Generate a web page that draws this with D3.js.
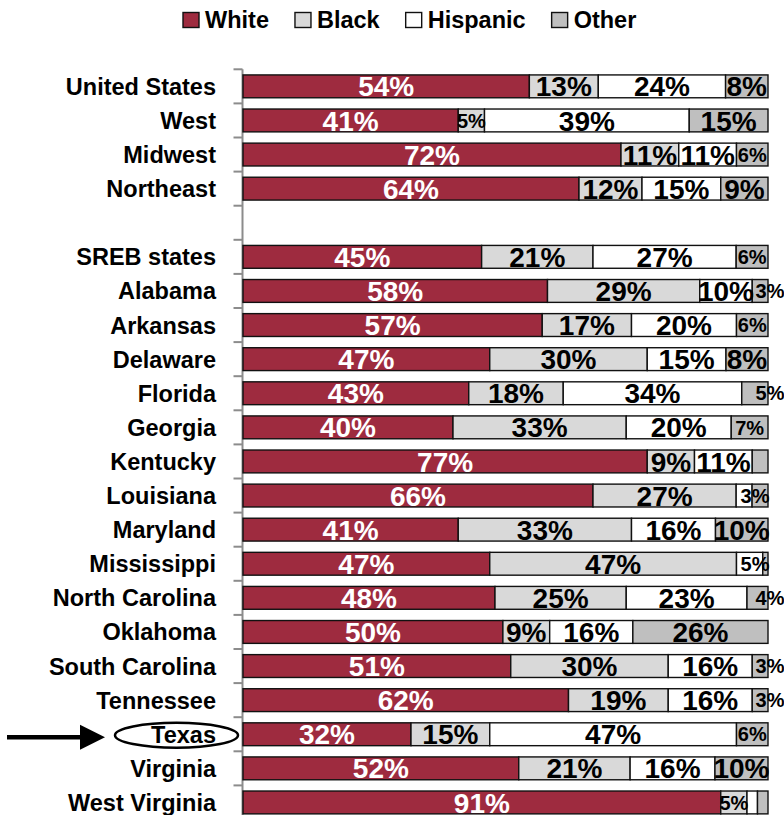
<!DOCTYPE html>
<html>
<head>
<meta charset="utf-8">
<script src="https://cdn.jsdelivr.net/npm/d3@7"></script>
<style>
  body { margin: 0; background: #fff; }
  svg { display: block; font-family: "Liberation Sans", Arial, sans-serif; font-weight: bold; }
</style>
</head>
<body>
<svg id="chart" width="784" height="815"></svg>
<script>
// chart data
var categories = ["United States", "West", "Midwest", "Northeast",
  "SREB states", "Alabama", "Arkansas", "Delaware", "Florida", "Georgia",
  "Kentucky", "Louisiana", "Maryland", "Mississippi", "North Carolina",
  "Oklahoma", "South Carolina", "Tennessee", "Texas", "Virginia", "West Virginia"];
var seriesNames = ["White", "Black", "Hispanic", "Other"];
var white    = [54, 41, 72, 64, 45, 58, 57, 47, 43, 40, 77, 66, 41, 47, 48, 50, 51, 62, 32, 52, 91];
var black    = [13,  5, 11, 12, 21, 29, 17, 30, 18, 33,  9, 27, 33, 47, 25,  9, 30, 19, 15, 21,  5];
var hispanic = [24, 39, 11, 15, 27, 10, 20, 15, 34, 20, 11,  3, 16,  5, 23, 16, 16, 16, 47, 16,  2];
var other    = [ 8, 15,  6,  9,  6,  3,  6,  8,  5,  7,  3,  3, 10,  1,  4, 26,  3,  3,  6, 10,  2];
var gapAfter = "Northeast";
var highlighted = "Texas";
var hiddenLabels = ["Kentucky|Other", "Louisiana|Other"];

var colors = { White: "#9e2b3f", Black: "#d9d9d9", Hispanic: "#ffffff", Other: "#bfbfbf" };

var svg = d3.select("#chart");

var rows = categories.map(function (c, i) {
  return { name: c, White: white[i], Black: black[i], Hispanic: hispanic[i], Other: other[i] };
});

// slots include one empty slot after the regions
var slots = [];
categories.forEach(function (c) {
  slots.push(c);
  if (c === gapAfter) slots.push("__gap__");
});

var y = d3.scaleBand().domain(slots).range([69.3, 69.3 + 34.1 * slots.length])
  .paddingInner(0.33).paddingOuter(0.165);
var x = d3.scaleLinear().domain([0, 1]).range([243, 768]);

var stacked = d3.stack().keys(seriesNames).offset(d3.stackOffsetExpand)(rows);

// axis line + ticks between categories
var axisX = 242.5;
var step = y.step();
var bounds = slots.map(function (s) { return y(s) - step * y.paddingInner() / 2; });
bounds.push(bounds[bounds.length - 1] + step);
svg.append("line")
  .attr("x1", axisX).attr("x2", axisX)
  .attr("y1", bounds[0]).attr("y2", bounds[bounds.length - 1])
  .attr("stroke", "#8c8c8c").attr("stroke-width", 2);
svg.selectAll("line.tick").data(bounds).enter().append("line")
  .attr("class", "tick")
  .attr("x1", axisX - 9).attr("x2", axisX)
  .attr("y1", function (d) { return d; }).attr("y2", function (d) { return d; })
  .attr("stroke", "#8c8c8c").attr("stroke-width", 2);

// bars
var layers = svg.selectAll("g.layer").data(stacked).enter().append("g")
  .attr("class", "layer")
  .attr("fill", function (d) { return colors[d.key]; });

layers.selectAll("rect").data(function (d) { return d; }).enter().append("rect")
  .attr("x", function (d) { return x(d[0]); })
  .attr("width", function (d) { return x(d[1]) - x(d[0]); })
  .attr("y", function (d) { return y(d.data.name); })
  .attr("height", y.bandwidth())
  .attr("stroke", "#111")
  .attr("stroke-width", 1.4);

// value labels; small tail labels get nudged right like the original
function labelX(d, key) {
  var v = d.data[key];
  var c = (x(d[0]) + x(d[1])) / 2;
  if (v <= 5 && key === "Other") return x(1) + 2;
  if (v <= 5 && key === "Hispanic" && x(1) - x(d[1]) < 25) return Math.max(c, x(1) - 13);
  return c;
}
stacked.forEach(function (layer) {
  svg.append("g").selectAll("text").data(layer).enter()
    .filter(function (d) {
      var v = d.data[layer.key];
      return v >= 3 && hiddenLabels.indexOf(d.data.name + "|" + layer.key) < 0;
    })
    .append("text")
    .attr("x", function (d) { return labelX(d, layer.key); })
    .attr("y", function (d) { return y(d.data.name) + y.bandwidth() / 2; })
    .attr("dy", "0.36em")
    .attr("text-anchor", "middle")
    .attr("font-size", function (d) { return d.data[layer.key] < 8 ? 20 : 28; })
    .attr("fill", layer.key === "White" ? "#fff" : "#000")
    .text(function (d) { return d.data[layer.key] + "%"; });
});

// category labels
svg.append("g").selectAll("text").data(categories).enter().append("text")
  .attr("x", 216)
  .attr("y", function (d) { return y(d) + y.bandwidth() / 2; })
  .attr("dy", "0.36em")
  .attr("text-anchor", "end")
  .attr("font-size", 23.5)
  .attr("fill", "#000")
  .text(function (d) { return d; });

// highlight for Texas: ellipse + arrow
var ty = y(highlighted) + y.bandwidth() / 2 + 1;
svg.append("ellipse")
  .attr("cx", 176.5).attr("cy", ty)
  .attr("rx", 61.5).attr("ry", 12.5)
  .attr("fill", "none").attr("stroke", "#000").attr("stroke-width", 2.5);
svg.append("line")
  .attr("x1", 7).attr("x2", 84)
  .attr("y1", ty + 2).attr("y2", ty + 2)
  .attr("stroke", "#000").attr("stroke-width", 4.5);
svg.append("path")
  .attr("d", "M80," + (ty - 10.5) + " L105," + (ty + 2) + " L80," + (ty + 14.5) + " Z")
  .attr("fill", "#000");

// legend
var legend = svg.append("g");
var lx = 183;
seriesNames.forEach(function (name) {
  legend.append("rect")
    .attr("x", lx).attr("y", 12.5)
    .attr("width", 16).attr("height", 15)
    .attr("fill", colors[name])
    .attr("stroke", "#111").attr("stroke-width", 1.4);
  var t = legend.append("text")
    .attr("x", lx + 22).attr("y", 28)
    .attr("font-size", 23.5)
    .attr("fill", "#000")
    .text(name);
  lx += 22 + t.node().getComputedTextLength() + 26;
});
</script>
</body>
</html>
